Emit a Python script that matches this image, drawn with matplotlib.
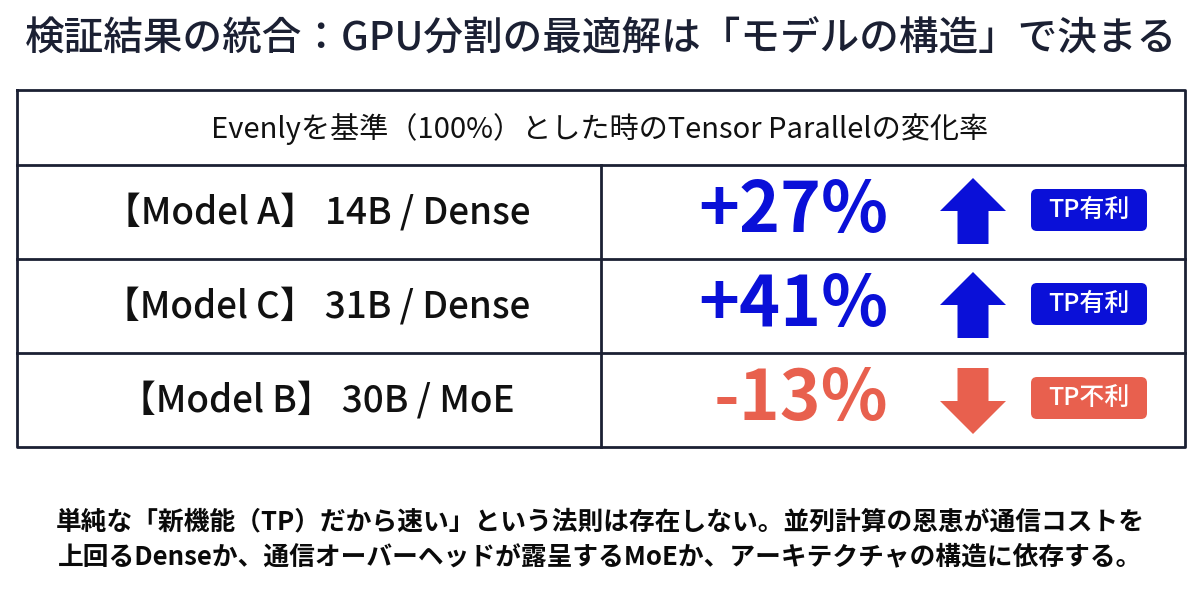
import matplotlib
matplotlib.use("Agg")
import matplotlib.pyplot as plt
from matplotlib.patches import FancyBboxPatch, Polygon

plt.rcParams['font.family'] = ['Noto Sans CJK JP', 'DejaVu Sans']

# data
title = "検証結果の統合：GPU分割の最適解は「モデルの構造」で決まる"
header = "Evenlyを基準（100%）とした時のTensor Parallelの変化率"
models = ["Model A", "Model C", "Model B"]
params = ["14B", "31B", "30B"]
archs = ["Dense", "Dense", "MoE"]
changes = [27, 41, -13]
verdicts = ["TP有利", "TP有利", "TP不利"]
footer = ["単純な「新機能（TP）だから速い」という法則は存在しない。並列計算の恩恵が通信コストを",
          "上回るDenseか、通信オーバーヘッドが露呈するMoEか、アーキテクチャの構造に依存する。"]

BLUE = "#0a10d8"
RED = "#e8604e"
NAVY = "#1b2033"

W, H = 1200, 592
fig = plt.figure(figsize=(12, 5.92), dpi=100)
ax = fig.add_axes([0, 0, 1, 1])
ax.set_xlim(0, W)
ax.set_ylim(H, 0)
ax.axis('off')

# title
ax.text(601, 40, title, ha='center', va='center', fontsize=28.5, fontweight='medium', color=NAVY)

# table frame
left, right, top = 17, 1185, 90
head_bot = 165
row_h = 94
col_x = 601
n = len(models)
bottom = head_bot + row_h * n
lw = 2
ax.plot([left, right, right, left, left], [top, top, bottom, bottom, top], color=NAVY, lw=lw)
for i in range(n):
  y = head_bot + row_h * i
  ax.plot([left, right], [y, y], color=NAVY, lw=lw)
ax.plot([col_x, col_x], [head_bot, bottom], color=NAVY, lw=lw)

ax.text(600, (top + head_bot) / 2 + 2, header, ha='center', va='center', fontsize=21, color='#111111')

for i in range(n):
  yc = head_bot + row_h * (i + 0.5)
  good = changes[i] > 0
  c = BLUE if good else RED
  label = "【%s】 %s / %s" % (models[i], params[i], archs[i])
  ax.text((left + col_x) / 2 + 8, yc, label, ha='center', va='center', fontsize=26.5,
          fontweight='medium', color='#111111')
  ax.text(888, yc, "%+d%%" % changes[i], ha='right', va='center', fontsize=50,
          fontweight='bold', color=c)
  # arrow
  ax_c, aw, sw, ah, hh = 973, 66, 31, 66, 33
  if good:
    t = yc - ah / 2 - 1
    pts = [(ax_c, t), (ax_c + aw / 2, t + hh), (ax_c + sw / 2, t + hh), (ax_c + sw / 2, t + ah),
           (ax_c - sw / 2, t + ah), (ax_c - sw / 2, t + hh), (ax_c - aw / 2, t + hh)]
  else:
    b = yc + ah / 2 + 1
    pts = [(ax_c, b), (ax_c + aw / 2, b - hh), (ax_c + sw / 2, b - hh), (ax_c + sw / 2, b - ah),
           (ax_c - sw / 2, b - ah), (ax_c - sw / 2, b - hh), (ax_c - aw / 2, b - hh)]
  ax.add_patch(Polygon(pts, closed=True, facecolor=c, edgecolor='none'))
  # badge
  bx0, bx1, bh = 1031, 1147, 42
  ax.add_patch(FancyBboxPatch((bx0, yc - bh / 2 - 2), bx1 - bx0, bh,
                              boxstyle="round,pad=0,rounding_size=6",
                              facecolor=c, edgecolor='none'))
  ax.text((bx0 + bx1) / 2, yc - 2, verdicts[i], ha='center', va='center', fontsize=18,
          color='white', fontweight='medium')

# footer
for j, line in enumerate(footer):
  ax.text(600, 522 + 35 * j, line, ha='center', va='center', fontsize=18.5, fontweight='bold',
          color='#0a0a0a')

fig.savefig("out.png", dpi=100, facecolor='white')
